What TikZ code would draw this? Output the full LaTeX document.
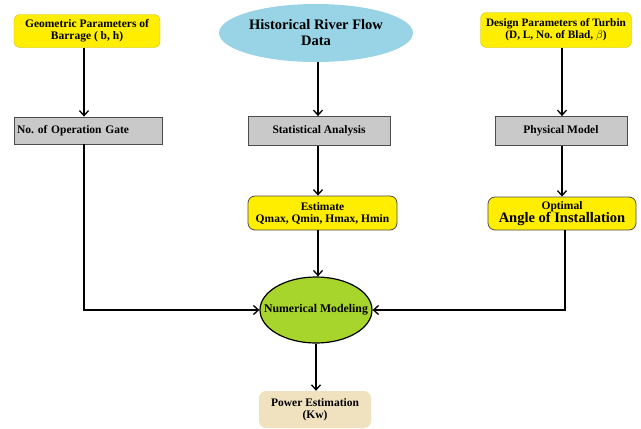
\documentclass[tikz,border=0pt]{standalone}
\usepackage{fontspec}
\setmainfont{Liberation Serif}
\usetikzlibrary{arrows.meta,shapes.geometric,positioning}
\definecolor{ybox}{HTML}{FFEE00}
\definecolor{gbox}{HTML}{C9C9C9}
\definecolor{bluee}{HTML}{98D3E6}
\definecolor{greene}{HTML}{A8D52C}
\definecolor{beige}{HTML}{F0E2BF}
\tikzset{
  txt/.style={font=\bfseries\fontsize{11.5}{12}\selectfont},
  ytop/.style={txt, fill=ybox, draw=ybox!80!black, line width=0.3pt, rounded corners=6pt, inner sep=0pt, align=center},
  gray box/.style={txt, fill=gbox, draw=black!70, line width=0.8pt, inner sep=2pt},
  yout/.style={txt, fill=ybox, draw=black!70, line width=0.8pt, rounded corners=7pt, inner sep=0pt, align=center},
  conn/.style={line width=1.3pt, -{Straight Barb[length=5pt,width=9pt,line width=1.3pt]}},
}
\begin{document}
\frenchspacing
\begin{tikzpicture}[x=1pt,y=-1pt]
\useasboundingbox (0,0) rectangle (641,429);
% top nodes
\node[ytop, minimum width=146pt, minimum height=33pt] (geo) at (87,31) {Geometric Parameters of\\Barrage ( b, h)};
\node[ellipse, fill=bluee, minimum width=194pt, minimum height=58pt, inner sep=0pt, align=center, font=\bfseries\fontsize{14.5}{16}\selectfont] (hist) at (316,33) {Historical River Flow\\Data};
\node[ytop, minimum width=151pt, minimum height=35pt, font=\bfseries\fontsize{11.3}{12}\selectfont] (des) at (556,30) {Design Parameters of Turbin\\(D, L, No. of Blad, $\beta$)};
% gray boxes
\node[gray box, minimum width=148pt, minimum height=27pt, text width=142pt, align=left] (gate) at (88,130.5) {No. of Operation Gate};
\node[gray box, minimum width=142pt, minimum height=29pt] (stat) at (319,131) {Statistical Analysis};
\node[gray box, minimum width=132pt, minimum height=29pt] (phys) at (561,131) {Physical Model};
% yellow outlined boxes
\node[yout, minimum width=149pt, minimum height=34pt] (est) at (322.5,213) {Estimate\\Qmax, Qmin, Hmax, Hmin};
\node[yout, minimum width=148pt, minimum height=33pt] (opt) at (562,213.5) {Optimal\\[-1pt]{\fontsize{14.5}{15}\selectfont Angle of Installation}};
% central ellipse
\node[ellipse, fill=greene, draw=black, line width=1.2pt, minimum width=112pt, minimum height=66pt, inner sep=0pt] (num) at (316,310) {};
\node[font=\bfseries\fontsize{11.8}{12}\selectfont, inner sep=0pt] (numtxt) at (num.center) {Numerical Modeling};
% power
\node[txt, fill=beige, rounded corners=7pt, minimum width=112pt, minimum height=37pt, inner sep=1pt, align=center] (pow) at (315,409.5) {Power Estimation\\(Kw)};
% connectors
\draw[conn] (geo.south -| 84,0) -- (gate.north -| 84,0);
\draw[conn] (hist.south -| 318,0) -- (stat.north -| 318,0);
\draw[conn] (des.south -| 562,0) -- (phys.north -| 562,0);
\draw[conn] (stat.south -| 318,0) -- (est.north -| 318,0);
\draw[conn] (phys.south -| 562,0) -- (opt.north -| 562,0);
\draw[conn] (est.south -| 318,0) -- (num.north -| 318,0);
\draw[conn] (gate.south -| 84,0) |- (num.west);
\draw[conn] (opt.south -| 565,0) |- (num.east);
\draw[conn] (num.south) -- (pow.north -| num.south);
\end{tikzpicture}
\end{document}
